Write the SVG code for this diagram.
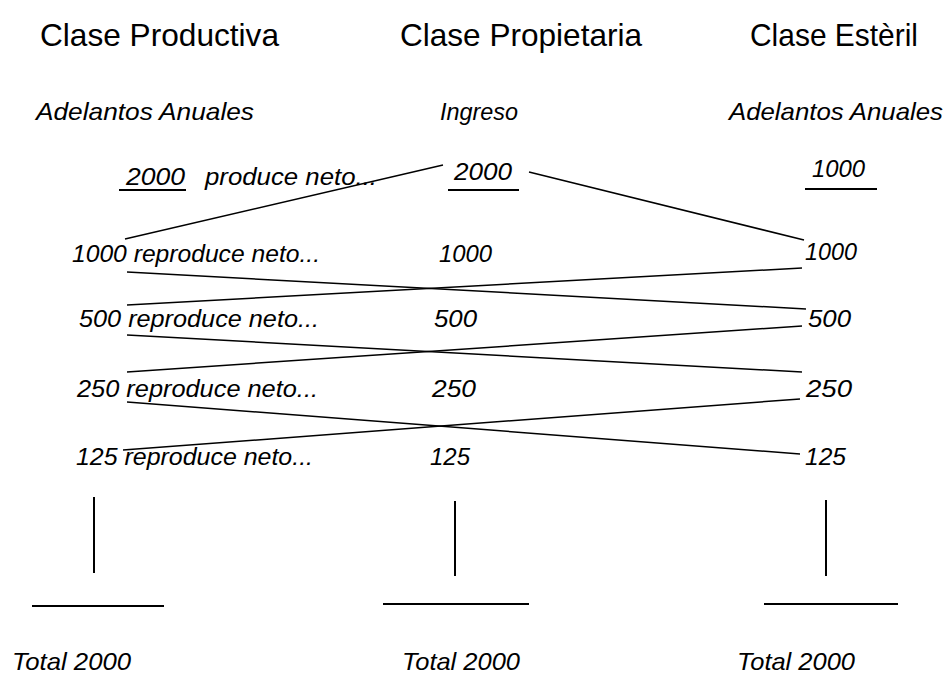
<svg xmlns="http://www.w3.org/2000/svg" width="948" height="675" viewBox="0 0 948 675">
<style>
  .h { font-family: "Liberation Sans", Arial, sans-serif; font-size: 32px; fill: #000; }
  .t { font-family: "Liberation Sans", Arial, sans-serif; font-size: 24px; font-style: italic; fill: #000; }
  .c { stroke: #000; stroke-width: 1.5; fill: none; }
  .u { stroke: #000; stroke-width: 2; fill: none; }
</style>
<rect width="948" height="675" fill="#fff"/>

<g id="hdr-productiva"><text class="h" x="40" y="46" textLength="239" lengthAdjust="spacingAndGlyphs">Clase Productiva</text></g>
<g id="hdr-propietaria"><text class="h" x="400" y="46" textLength="242" lengthAdjust="spacingAndGlyphs">Clase Propietaria</text></g>
<g id="hdr-esteril"><text class="h" x="750" y="46" textLength="168" lengthAdjust="spacingAndGlyphs">Clase Estèril</text></g>

<g id="sub-productiva"><text class="t" x="36" y="120" textLength="218" lengthAdjust="spacingAndGlyphs">Adelantos Anuales</text></g>
<g id="sub-propietaria"><text class="t" x="440" y="120" textLength="78" lengthAdjust="spacingAndGlyphs">Ingreso</text></g>
<g id="sub-esteril"><text class="t" x="729" y="120" textLength="214" lengthAdjust="spacingAndGlyphs">Adelantos Anuales</text></g>

<g id="prod-2000">
  <text class="t" x="126" y="185" textLength="59" lengthAdjust="spacingAndGlyphs">2000</text>
  <line class="u" x1="119" y1="190" x2="186" y2="190"/>
  <text class="t" x="205" y="185" textLength="172" lengthAdjust="spacingAndGlyphs">produce neto...</text>
</g>
<g id="prop-2000">
  <text class="t" x="454" y="180" textLength="58" lengthAdjust="spacingAndGlyphs">2000</text>
  <line class="u" x1="448" y1="190" x2="519" y2="190"/>
</g>
<g id="est-1000">
  <text class="t" x="812" y="177" textLength="53" lengthAdjust="spacingAndGlyphs">1000</text>
  <line class="u" x1="805" y1="189" x2="877" y2="189"/>
</g>

<g id="prod-1000"><text class="t" x="72" y="262" textLength="248" lengthAdjust="spacingAndGlyphs">1000 reproduce neto...</text></g>
<g id="prop-1000"><text class="t" x="439" y="262" textLength="53" lengthAdjust="spacingAndGlyphs">1000</text></g>
<g id="est-1000b"><text class="t" x="805" y="260" textLength="52" lengthAdjust="spacingAndGlyphs">1000</text></g>

<g id="prod-500"><text class="t" x="79" y="327" textLength="240" lengthAdjust="spacingAndGlyphs">500 reproduce neto...</text></g>
<g id="prop-500"><text class="t" x="434" y="327" textLength="43" lengthAdjust="spacingAndGlyphs">500</text></g>
<g id="est-500"><text class="t" x="808" y="327" textLength="43" lengthAdjust="spacingAndGlyphs">500</text></g>

<g id="prod-250"><text class="t" x="77" y="397" textLength="241" lengthAdjust="spacingAndGlyphs">250 reproduce neto...</text></g>
<g id="prop-250"><text class="t" x="432" y="397" textLength="44" lengthAdjust="spacingAndGlyphs">250</text></g>
<g id="est-250"><text class="t" x="806" y="397" textLength="46" lengthAdjust="spacingAndGlyphs">250</text></g>

<g id="prod-125"><text class="t" x="76" y="465" textLength="237" lengthAdjust="spacingAndGlyphs">125 reproduce neto...</text></g>
<g id="prop-125"><text class="t" x="430" y="465" textLength="40" lengthAdjust="spacingAndGlyphs">125</text></g>
<g id="est-125"><text class="t" x="805" y="465" textLength="41" lengthAdjust="spacingAndGlyphs">125</text></g>

<g id="total-productiva">
  <line class="u" x1="94" y1="497" x2="94" y2="573"/>
  <line class="u" x1="32" y1="606" x2="164" y2="606"/>
  <text class="t" x="12" y="670" textLength="119" lengthAdjust="spacingAndGlyphs">Total 2000</text>
</g>
<g id="total-propietaria">
  <line class="u" x1="455" y1="501" x2="455" y2="576"/>
  <line class="u" x1="383" y1="604" x2="529" y2="604"/>
  <text class="t" x="402" y="670" textLength="118" lengthAdjust="spacingAndGlyphs">Total 2000</text>
</g>
<g id="total-esteril">
  <line class="u" x1="826" y1="500" x2="826" y2="576"/>
  <line class="u" x1="764" y1="604" x2="898" y2="604"/>
  <text class="t" x="737" y="670" textLength="118" lengthAdjust="spacingAndGlyphs">Total 2000</text>
</g>

<g id="connectors">
  <line class="c" x1="443" y1="165" x2="125" y2="239"/>
  <line class="c" x1="529" y1="172" x2="804" y2="240"/>
  <line class="c" x1="802" y1="268" x2="127" y2="305"/>
  <line class="c" x1="127" y1="272" x2="806" y2="309"/>
  <line class="c" x1="802" y1="326" x2="127" y2="372"/>
  <line class="c" x1="127" y1="335" x2="802" y2="372"/>
  <line class="c" x1="800" y1="399" x2="123" y2="450"/>
  <line class="c" x1="127" y1="402" x2="800" y2="454"/>
</g>
</svg>
